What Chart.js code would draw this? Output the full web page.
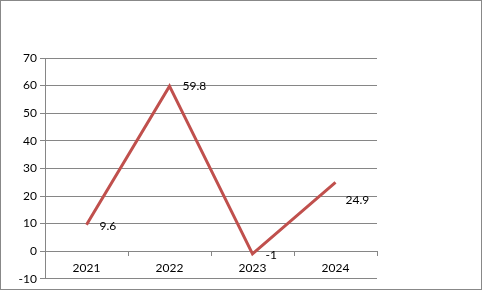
<!DOCTYPE html>
<html><head><meta charset="utf-8">
<script src="https://cdn.jsdelivr.net/npm/chart.js@4/dist/chart.umd.min.js"></script>
<style>
html,body{margin:0;padding:0;background:#fff;}
#wrap{width:480px;height:288px;border:1px solid #888;position:relative;}
canvas{display:block;}
</style></head><body>
<div id="wrap"><canvas id="c" width="480" height="288"></canvas></div>
<script>
const categories = ["2021", "2022", "2023", "2024"];
const values = [9.6, 59.8, -1, 24.9];
const yTicks = { min: -10, max: 70, step: 10 };

const labelPlugin = {
  id: 'valueLabels',
  afterDatasetsDraw(chart, args, opts) {
    const ctx = chart.ctx;
    const meta = chart.getDatasetMeta(0);
    ctx.save();
    ctx.font = '12px Lato, "Liberation Sans", sans-serif';
    ctx.fillStyle = '#000';
    ctx.textAlign = 'left';
    ctx.textBaseline = 'middle';
    meta.data.forEach((pt, i) => {
      const off = opts.offsets[i] || [12, 0];
      ctx.fillText(String(values[i]), pt.x + off[0], pt.y + off[1]);
    });
    ctx.restore();
  }
};

new Chart(document.getElementById('c'), {
  type: 'line',
  data: {
    labels: categories,
    datasets: [{
      data: values,
      borderColor: '#C0504D',
      borderWidth: 3,
      pointRadius: 0,
      tension: 0,
      fill: false
    }]
  },
  options: {
    responsive: false,
    animation: false,
    layout: { padding: { left: 0, right: 104, top: 57, bottom: 3 } },
    plugins: {
      legend: { display: false },
      tooltip: { enabled: false },
      valueLabels: { offsets: [[13, 1], [13, 0], [13, 1], [10, 18]] }
    },
    scales: {
      x: {
        type: 'category',
        offset: true,
        position: { y: 0 },
        grid: { display: true, offset: true, drawOnChartArea: false, drawTicks: true, tickLength: 4, color: '#868686' },
        border: { display: true, color: '#868686' },
        ticks: { color: '#000', padding: 6, font: { family: 'Lato, "Liberation Sans", sans-serif', size: 12 }, maxRotation: 0 }
      },
      y: {
        min: yTicks.min,
        max: yTicks.max,
        grid: { color: '#868686', tickLength: 5, drawTicks: true },
        border: { display: true, color: '#868686' },
        ticks: { stepSize: yTicks.step, color: '#000', padding: 3, font: { family: 'Lato, "Liberation Sans", sans-serif', size: 12 } },
        afterFit(scale) { scale.width = 44; }
      }
    }
  },
  plugins: [labelPlugin]
});
</script>
</body></html>
